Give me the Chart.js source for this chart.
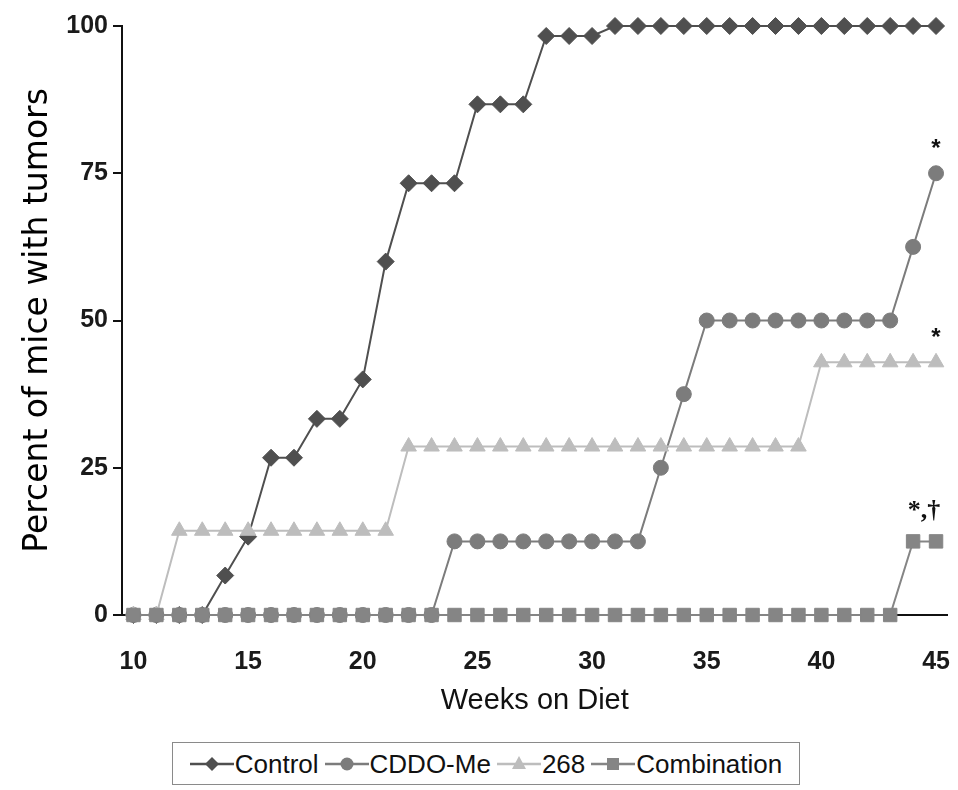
<!DOCTYPE html>
<html>
<head>
<meta charset="utf-8">
<script src="https://cdn.jsdelivr.net/npm/chart.js@4.4.1/dist/chart.umd.min.js"></script>
<style>
  html, body { margin: 0; padding: 0; background: #ffffff; }
  body { width: 958px; height: 790px; position: relative; overflow: hidden; font-family: "Liberation Sans", Arial, sans-serif; }
  #wrap { position: absolute; left: 0; top: 0; width: 958px; height: 722px; }
  #legend { position: absolute; left: 172px; top: 742px; width: 628px; height: 43px; border: 1.5px solid #8a8a8a;
            display: flex; align-items: center; justify-content: center; box-sizing: border-box; white-space: nowrap; }
  .item { display: flex; align-items: center; margin: 0 3px; flex-shrink: 0; }
  .item span { font-size: 26px; color: #111; line-height: 1; margin-left: 1px; white-space: nowrap; }
</style>
</head>
<body>
<div id="wrap"><canvas id="c" width="958" height="722"></canvas></div>
<div id="legend"></div>
<script>
// ---- data ----
const weeks = [10,11,12,13,14,15,16,17,18,19,20,21,22,23,24,25,26,27,28,29,30,31,32,33,34,35,36,37,38,39,40,41,42,43,44,45];
const controlValues = [0,0,0,0,6.7,13.3,26.7,26.7,33.3,33.3,40,60,73.3,73.3,73.3,86.7,86.7,86.7,98.3,98.3,98.3,100,100,100,100,100,100,100,100,100,100,100,100,100,100,100];
const cddoValues = [0,0,0,0,0,0,0,0,0,0,0,0,0,0,12.5,12.5,12.5,12.5,12.5,12.5,12.5,12.5,12.5,25,37.5,50,50,50,50,50,50,50,50,50,62.5,75];
const t268Values = [0,0,14.3,14.3,14.3,14.3,14.3,14.3,14.3,14.3,14.3,14.3,28.6,28.6,28.6,28.6,28.6,28.6,28.6,28.6,28.6,28.6,28.6,28.6,28.6,28.6,28.6,28.6,28.6,28.6,42.9,42.9,42.9,42.9,42.9,42.9];
const comboValues = [0,0,0,0,0,0,0,0,0,0,0,0,0,0,0,0,0,0,0,0,0,0,0,0,0,0,0,0,0,0,0,0,0,0,12.5,12.5];
const yTicks = [0, 25, 50, 75, 100];
const xTickLabels = [10, 15, 20, 25, 30, 35, 40, 45];
const seriesNames = ["Control", "CDDO-Me", "268", "Combination"];
const annotations = [
  { series: 1, text: "*" },
  { series: 2, text: "*" },
  { series: 3, text: "*,\u2020" }
];

const styles = [
  { color: "#4f4f4f", point: "rectRot", r: 8.5, order: 3 },
  { color: "#7c7c7c", point: "circle", r: 7.5, order: 2 },
  { color: "#bdbdbd", point: "triangle", r: 9, order: 1 },
  { color: "#858585", point: "rect", r: 9.5, order: 0 }
];
const allValues = [controlValues, cddoValues, t268Values, comboValues];

const datasets = seriesNames.map((name, i) => ({
  label: name,
  data: allValues[i],
  borderColor: styles[i].color,
  backgroundColor: styles[i].color,
  pointBackgroundColor: styles[i].color,
  pointBorderColor: styles[i].color,
  pointBorderWidth: 1,
  pointStyle: styles[i].point,
  pointRadius: styles[i].r,
  borderWidth: 2,
  tension: 0,
  clip: false,
  order: styles[i].order
}));

const annotationPlugin = {
  id: "annot",
  afterDatasetsDraw(chart) {
    const ctx = chart.ctx;
    const xs = chart.scales.x, ys = chart.scales.y;
    ctx.save();
    ctx.fillStyle = "#111";
    ctx.textBaseline = "middle";
    ctx.textAlign = "center";
    annotations.forEach(a => {
      const vals = allValues[a.series];
      const idx = vals.length - 1;
      const px = xs.getPixelForValue(idx);
      const py = ys.getPixelForValue(vals[idx]);
      if (a.text === "*") {
        ctx.font = "bold 24px 'Liberation Sans', Arial, sans-serif";
        ctx.fillText(a.text, px, py - 24);
      } else {
        ctx.font = "bold 26px 'Liberation Serif', serif";
        ctx.fillText(a.text, px - 12, py - 30);
      }
    });
    ctx.restore();
  }
};

new Chart(document.getElementById("c"), {
  type: "line",
  data: { labels: weeks, datasets },
  plugins: [annotationPlugin],
  options: {
    responsive: false,
    animation: false,
    layout: { padding: { left: 15, top: 26, right: 2, bottom: 0 } },
    plugins: { legend: { display: false }, tooltip: { enabled: false } },
    scales: {
      x: {
        type: "category",
        offset: true,
        grid: { display: false },
        border: { display: true, color: "#111", width: 2 },
        ticks: {
          autoSkip: false,
          maxRotation: 0,
          padding: 24,
          color: "#1a1a1a",
          font: { family: "'Liberation Sans', Arial, sans-serif", size: 25, weight: "bold" },
          callback: function(v, i) { const w = weeks[i]; return xTickLabels.includes(w) ? String(w) : ""; }
        },
        title: {
          display: true,
          text: "Weeks on Diet",
          color: "#111",
          font: { family: "'Liberation Sans', Arial, sans-serif", size: 29 }
        },
        afterFit(axis) { axis.height = 107; axis.paddingLeft = 0; axis.paddingRight = 0; }
      },
      y: {
        min: 0, max: 100,
        afterBuildTicks(axis) { axis.ticks = yTicks.map(v => ({ value: v })); },
        grid: { display: true, drawOnChartArea: false, drawTicks: true, tickLength: 9, color: "#111", lineWidth: 2 },
        border: { display: true, color: "#111", width: 2 },
        ticks: {
          padding: 5,
          color: "#1a1a1a",
          font: { family: "'Liberation Sans', Arial, sans-serif", size: 25, weight: "bold" }
        },
        title: {
          display: true,
          text: "Percent of mice with tumors",
          color: "#000",
          font: { family: "'DejaVu Sans', sans-serif", size: 33 }
        },
        afterFit(axis) { axis.width = 107; axis.paddingTop = 0; axis.paddingBottom = 0; }
      }
    }
  }
});

// HTML legend built from the same series
const legend = document.getElementById("legend");
function markerSvg(st) {
  const c = st.color;
  let m = "";
  if (st.point === "rectRot") m = `<polygon points="22,4 29,11 22,18 15,11" fill="${c}"/>`;
  else if (st.point === "circle") m = `<circle cx="22" cy="11" r="6.5" fill="${c}"/>`;
  else if (st.point === "triangle") m = `<polygon points="22,3 29,16 15,16" fill="${c}"/>`;
  else m = `<rect x="16" y="5" width="12" height="12" fill="${c}"/>`;
  return `<svg width="44" height="22" viewBox="0 0 44 22"><line x1="0" y1="11" x2="44" y2="11" stroke="${c}" stroke-width="2.5"/>${m}</svg>`;
}
seriesNames.forEach((n, i) => {
  const d = document.createElement("div");
  d.className = "item";
  d.innerHTML = markerSvg(styles[i]) + `<span>${n}</span>`;
  legend.appendChild(d);
});
</script>
</body>
</html>
